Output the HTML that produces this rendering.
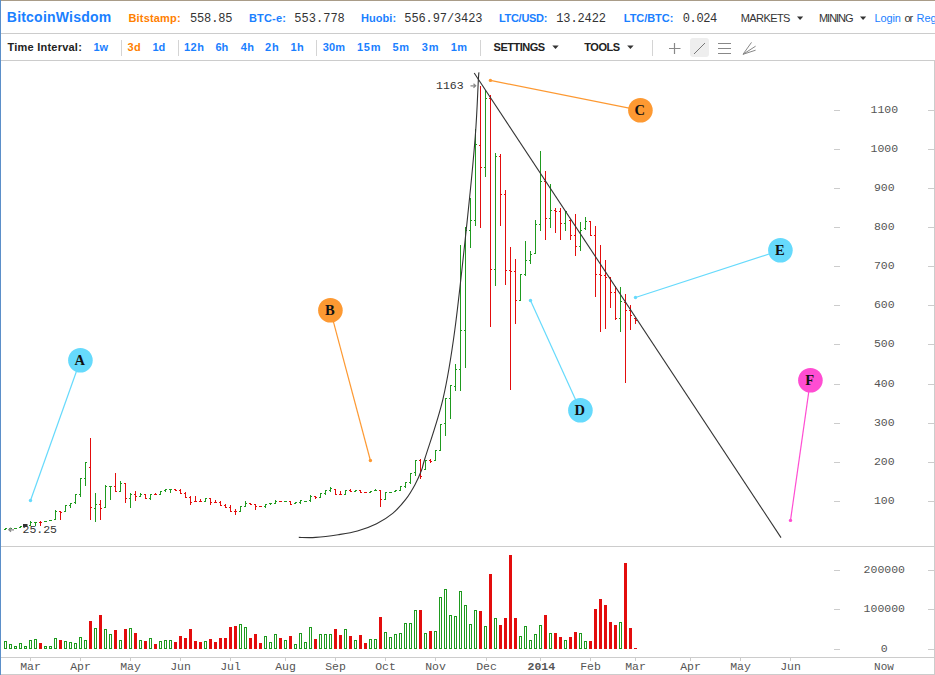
<!DOCTYPE html><html><head><meta charset="utf-8"><style>html,body{margin:0;padding:0;background:#fff;width:935px;height:675px;overflow:hidden}svg{display:block}</style></head><body>
<svg width="935" height="675" viewBox="0 0 935 675">
<rect x="0" y="0" width="935" height="675" fill="#fff"/>
<rect x="0" y="33" width="935" height="1" fill="#cccccc"/>
<rect x="0" y="60" width="935" height="1" fill="#cccccc"/>
<rect x="934" y="60" width="1" height="615" fill="#cccccc"/>
<rect x="0" y="546" width="935" height="1" fill="#cccccc"/>
<rect x="0" y="657" width="935" height="1" fill="#cccccc"/>
<rect x="0" y="674" width="935" height="1" fill="#cccccc"/>
<rect x="0" y="0" width="935" height="1" fill="#a99c88"/>
<rect x="0" y="0" width="1" height="675" fill="#5b8fc9"/>
<text x="6.80" y="22" style="font-family:'Liberation Sans',sans-serif;font-size:14px;font-weight:bold;fill:#1a80ff" textLength="104.37" lengthAdjust="spacing">BitcoinWisdom</text>
<text x="128.50" y="22" style="font-family:'Liberation Sans',sans-serif;font-size:11px;font-weight:bold;fill:#ff8000" textLength="52.13" lengthAdjust="spacing">Bitstamp:</text>
<text x="189.90" y="22" style="font-family:'Liberation Mono',monospace;font-size:12px;fill:#333" textLength="42.62" lengthAdjust="spacing">558.85</text>
<text x="248.90" y="22" style="font-family:'Liberation Sans',sans-serif;font-size:11px;font-weight:bold;fill:#1a80ff" textLength="37.06" lengthAdjust="spacing">BTC-e:</text>
<text x="294.20" y="22" style="font-family:'Liberation Mono',monospace;font-size:12px;fill:#333" textLength="50.62" lengthAdjust="spacing">553.778</text>
<text x="360.90" y="22" style="font-family:'Liberation Sans',sans-serif;font-size:11px;font-weight:bold;fill:#1a80ff" textLength="35.23" lengthAdjust="spacing">Huobi:</text>
<text x="404.30" y="22" style="font-family:'Liberation Mono',monospace;font-size:12px;fill:#333" textLength="78.22" lengthAdjust="spacing">556.97/3423</text>
<text x="498.90" y="22" style="font-family:'Liberation Sans',sans-serif;font-size:11px;font-weight:bold;fill:#1a80ff" textLength="48.52" lengthAdjust="spacing">LTC/USD:</text>
<text x="556.30" y="22" style="font-family:'Liberation Mono',monospace;font-size:12px;fill:#333" textLength="49.62" lengthAdjust="spacing">13.2422</text>
<text x="623.80" y="22" style="font-family:'Liberation Sans',sans-serif;font-size:11px;font-weight:bold;fill:#1a80ff" textLength="49.51" lengthAdjust="spacing">LTC/BTC:</text>
<text x="682.80" y="22" style="font-family:'Liberation Mono',monospace;font-size:12px;fill:#333" textLength="34.42" lengthAdjust="spacing">0.024</text>
<text x="740.80" y="22" style="font-family:'Liberation Sans',sans-serif;font-size:11px;fill:#333" textLength="49.59" lengthAdjust="spacing">MARKETS</text>
<text x="819.00" y="22" style="font-family:'Liberation Sans',sans-serif;font-size:11px;fill:#333" textLength="34.53" lengthAdjust="spacing">MINING</text>
<text x="874.40" y="22" style="font-family:'Liberation Sans',sans-serif;font-size:11px;fill:#1a80ff" textLength="26.52" lengthAdjust="spacing">Login</text>
<text x="904.50" y="22" style="font-family:'Liberation Sans',sans-serif;font-size:11px;fill:#333" textLength="8.58" lengthAdjust="spacing">or</text>
<text x="7.50" y="51" style="font-family:'Liberation Sans',sans-serif;font-size:11px;font-weight:bold;fill:#222" textLength="74.33" lengthAdjust="spacing">Time Interval:</text>
<text x="93.50" y="51" style="font-family:'Liberation Sans',sans-serif;font-size:11px;font-weight:bold;fill:#1a80ff" textLength="14.49" lengthAdjust="spacing">1w</text>
<text x="127.60" y="51" style="font-family:'Liberation Sans',sans-serif;font-size:11px;font-weight:bold;fill:#ff8000" textLength="13.24" lengthAdjust="spacing">3d</text>
<text x="152.50" y="51" style="font-family:'Liberation Sans',sans-serif;font-size:11px;font-weight:bold;fill:#1a80ff" textLength="12.64" lengthAdjust="spacing">1d</text>
<text x="183.90" y="51" style="font-family:'Liberation Sans',sans-serif;font-size:11px;font-weight:bold;fill:#1a80ff" textLength="19.97" lengthAdjust="spacing">12h</text>
<text x="215.60" y="51" style="font-family:'Liberation Sans',sans-serif;font-size:11px;font-weight:bold;fill:#1a80ff" textLength="12.64" lengthAdjust="spacing">6h</text>
<text x="240.70" y="51" style="font-family:'Liberation Sans',sans-serif;font-size:11px;font-weight:bold;fill:#1a80ff" textLength="13.24" lengthAdjust="spacing">4h</text>
<text x="265.10" y="51" style="font-family:'Liberation Sans',sans-serif;font-size:11px;font-weight:bold;fill:#1a80ff" textLength="13.64" lengthAdjust="spacing">2h</text>
<text x="290.60" y="51" style="font-family:'Liberation Sans',sans-serif;font-size:11px;font-weight:bold;fill:#1a80ff" textLength="13.24" lengthAdjust="spacing">1h</text>
<text x="322.70" y="51" style="font-family:'Liberation Sans',sans-serif;font-size:11px;font-weight:bold;fill:#1a80ff" textLength="22.23" lengthAdjust="spacing">30m</text>
<text x="357.00" y="51" style="font-family:'Liberation Sans',sans-serif;font-size:11px;font-weight:bold;fill:#1a80ff" textLength="23.43" lengthAdjust="spacing">15m</text>
<text x="392.40" y="51" style="font-family:'Liberation Sans',sans-serif;font-size:11px;font-weight:bold;fill:#1a80ff" textLength="16.51" lengthAdjust="spacing">5m</text>
<text x="421.80" y="51" style="font-family:'Liberation Sans',sans-serif;font-size:11px;font-weight:bold;fill:#1a80ff" textLength="16.71" lengthAdjust="spacing">3m</text>
<text x="450.80" y="51" style="font-family:'Liberation Sans',sans-serif;font-size:11px;font-weight:bold;fill:#1a80ff" textLength="16.11" lengthAdjust="spacing">1m</text>
<text x="493.60" y="51" style="font-family:'Liberation Sans',sans-serif;font-size:11px;font-weight:bold;fill:#222" textLength="51.42" lengthAdjust="spacing">SETTINGS</text>
<text x="584.30" y="51" style="font-family:'Liberation Sans',sans-serif;font-size:11px;font-weight:bold;fill:#222" textLength="35.90" lengthAdjust="spacing">TOOLS</text>
<path d="M797 16.5 h6.2 l-3.1 3.5z" fill="#333"/>
<path d="M860 16.5 h6.2 l-3.1 3.5z" fill="#333"/>
<text x="916.5" y="22" style="font-family:'Liberation Sans',sans-serif;font-size:11px;fill:#1a80ff" text-anchor="start" >Register</text>
<rect x="121" y="40" width="1" height="16" fill="#d4d4d4"/>
<rect x="178" y="40" width="1" height="16" fill="#d4d4d4"/>
<rect x="316" y="40" width="1" height="16" fill="#d4d4d4"/>
<rect x="480" y="40" width="1" height="16" fill="#d4d4d4"/>
<rect x="652" y="40" width="1" height="16" fill="#d4d4d4"/>
<path d="M552.3 45.5 h6.4 l-3.2 3.4z" fill="#333"/>
<path d="M627.2 45.5 h6.4 l-3.2 3.4z" fill="#333"/>
<path d="M674.5 43 v11 M669 48.5 h11.5" stroke="#888" stroke-width="1.2" fill="none"/>
<rect x="690" y="38" width="19" height="19" rx="3" fill="#eeeeee"/>
<path d="M694 54 L705 43" stroke="#777" stroke-width="1" fill="none"/>
<path d="M718 43.5 h13 M718 48.5 h13 M718 53.5 h13" stroke="#888" stroke-width="1.2" fill="none"/>
<path d="M743 54.3 L751.5 42.4 M743 54.3 L755.6 46.2 M743 54.3 L755.6 50.2" stroke="#888" stroke-width="1" fill="none"/>
<rect x="834" y="501" width="6" height="1" fill="#cccccc"/><rect x="928" y="501" width="6" height="1" fill="#cccccc"/>
<text x="884.3" y="504" style="font-family:'Liberation Mono',monospace;font-size:11.5px;fill:#555" text-anchor="middle" >100</text>
<rect x="834" y="462" width="6" height="1" fill="#cccccc"/><rect x="928" y="462" width="6" height="1" fill="#cccccc"/>
<text x="884.3" y="465" style="font-family:'Liberation Mono',monospace;font-size:11.5px;fill:#555" text-anchor="middle" >200</text>
<rect x="834" y="423" width="6" height="1" fill="#cccccc"/><rect x="928" y="423" width="6" height="1" fill="#cccccc"/>
<text x="884.3" y="426" style="font-family:'Liberation Mono',monospace;font-size:11.5px;fill:#555" text-anchor="middle" >300</text>
<rect x="834" y="384" width="6" height="1" fill="#cccccc"/><rect x="928" y="384" width="6" height="1" fill="#cccccc"/>
<text x="884.3" y="387" style="font-family:'Liberation Mono',monospace;font-size:11.5px;fill:#555" text-anchor="middle" >400</text>
<rect x="834" y="344" width="6" height="1" fill="#cccccc"/><rect x="928" y="344" width="6" height="1" fill="#cccccc"/>
<text x="884.3" y="347" style="font-family:'Liberation Mono',monospace;font-size:11.5px;fill:#555" text-anchor="middle" >500</text>
<rect x="834" y="305" width="6" height="1" fill="#cccccc"/><rect x="928" y="305" width="6" height="1" fill="#cccccc"/>
<text x="884.3" y="308" style="font-family:'Liberation Mono',monospace;font-size:11.5px;fill:#555" text-anchor="middle" >600</text>
<rect x="834" y="266" width="6" height="1" fill="#cccccc"/><rect x="928" y="266" width="6" height="1" fill="#cccccc"/>
<text x="884.3" y="269" style="font-family:'Liberation Mono',monospace;font-size:11.5px;fill:#555" text-anchor="middle" >700</text>
<rect x="834" y="227" width="6" height="1" fill="#cccccc"/><rect x="928" y="227" width="6" height="1" fill="#cccccc"/>
<text x="884.3" y="230" style="font-family:'Liberation Mono',monospace;font-size:11.5px;fill:#555" text-anchor="middle" >800</text>
<rect x="834" y="188" width="6" height="1" fill="#cccccc"/><rect x="928" y="188" width="6" height="1" fill="#cccccc"/>
<text x="884.3" y="191" style="font-family:'Liberation Mono',monospace;font-size:11.5px;fill:#555" text-anchor="middle" >900</text>
<rect x="834" y="149" width="6" height="1" fill="#cccccc"/><rect x="928" y="149" width="6" height="1" fill="#cccccc"/>
<text x="884.3" y="152" style="font-family:'Liberation Mono',monospace;font-size:11.5px;fill:#555" text-anchor="middle" >1000</text>
<rect x="834" y="110" width="6" height="1" fill="#cccccc"/><rect x="928" y="110" width="6" height="1" fill="#cccccc"/>
<text x="884.3" y="113" style="font-family:'Liberation Mono',monospace;font-size:11.5px;fill:#555" text-anchor="middle" >1100</text>
<rect x="834" y="570" width="6" height="1" fill="#cccccc"/><rect x="928" y="570" width="6" height="1" fill="#cccccc"/>
<text x="884.3" y="573" style="font-family:'Liberation Mono',monospace;font-size:11.5px;fill:#555" text-anchor="middle" >200000</text>
<rect x="834" y="609" width="6" height="1" fill="#cccccc"/><rect x="928" y="609" width="6" height="1" fill="#cccccc"/>
<text x="884.3" y="612" style="font-family:'Liberation Mono',monospace;font-size:11.5px;fill:#555" text-anchor="middle" >100000</text>
<rect x="834" y="649" width="6" height="1" fill="#cccccc"/><rect x="928" y="649" width="6" height="1" fill="#cccccc"/>
<text x="884.3" y="652" style="font-family:'Liberation Mono',monospace;font-size:11.5px;fill:#555" text-anchor="middle" >0</text>
<rect x="30" y="657" width="1" height="4" fill="#cccccc"/>
<text x="30.5" y="669.5" style="font-family:'Liberation Mono',monospace;font-size:11.5px;fill:#555" text-anchor="middle" >Mar</text>
<rect x="80" y="657" width="1" height="4" fill="#cccccc"/>
<text x="80.5" y="669.5" style="font-family:'Liberation Mono',monospace;font-size:11.5px;fill:#555" text-anchor="middle" >Apr</text>
<rect x="130" y="657" width="1" height="4" fill="#cccccc"/>
<text x="130.5" y="669.5" style="font-family:'Liberation Mono',monospace;font-size:11.5px;fill:#555" text-anchor="middle" >May</text>
<rect x="180" y="657" width="1" height="4" fill="#cccccc"/>
<text x="180.5" y="669.5" style="font-family:'Liberation Mono',monospace;font-size:11.5px;fill:#555" text-anchor="middle" >Jun</text>
<rect x="230" y="657" width="1" height="4" fill="#cccccc"/>
<text x="230.5" y="669.5" style="font-family:'Liberation Mono',monospace;font-size:11.5px;fill:#555" text-anchor="middle" >Jul</text>
<rect x="285" y="657" width="1" height="4" fill="#cccccc"/>
<text x="285.5" y="669.5" style="font-family:'Liberation Mono',monospace;font-size:11.5px;fill:#555" text-anchor="middle" >Aug</text>
<rect x="335" y="657" width="1" height="4" fill="#cccccc"/>
<text x="335.5" y="669.5" style="font-family:'Liberation Mono',monospace;font-size:11.5px;fill:#555" text-anchor="middle" >Sep</text>
<rect x="385" y="657" width="1" height="4" fill="#cccccc"/>
<text x="385.5" y="669.5" style="font-family:'Liberation Mono',monospace;font-size:11.5px;fill:#555" text-anchor="middle" >Oct</text>
<rect x="435" y="657" width="1" height="4" fill="#cccccc"/>
<text x="435.5" y="669.5" style="font-family:'Liberation Mono',monospace;font-size:11.5px;fill:#555" text-anchor="middle" >Nov</text>
<rect x="486" y="657" width="1" height="4" fill="#cccccc"/>
<text x="486.5" y="669.5" style="font-family:'Liberation Mono',monospace;font-size:11.5px;fill:#555" text-anchor="middle" >Dec</text>
<rect x="590" y="657" width="1" height="4" fill="#cccccc"/>
<text x="590.5" y="669.5" style="font-family:'Liberation Mono',monospace;font-size:11.5px;fill:#555" text-anchor="middle" >Feb</text>
<rect x="635" y="657" width="1" height="4" fill="#cccccc"/>
<text x="635.5" y="669.5" style="font-family:'Liberation Mono',monospace;font-size:11.5px;fill:#555" text-anchor="middle" >Mar</text>
<rect x="690" y="657" width="1" height="4" fill="#cccccc"/>
<text x="690.5" y="669.5" style="font-family:'Liberation Mono',monospace;font-size:11.5px;fill:#555" text-anchor="middle" >Apr</text>
<rect x="740" y="657" width="1" height="4" fill="#cccccc"/>
<text x="740.5" y="669.5" style="font-family:'Liberation Mono',monospace;font-size:11.5px;fill:#555" text-anchor="middle" >May</text>
<rect x="790" y="657" width="1" height="4" fill="#cccccc"/>
<text x="790.5" y="669.5" style="font-family:'Liberation Mono',monospace;font-size:11.5px;fill:#555" text-anchor="middle" >Jun</text>
<rect x="540" y="657" width="1" height="4" fill="#cccccc"/>
<text x="541.3" y="669.5" style="font-family:'Liberation Mono',monospace;font-size:11.5px;font-weight:bold;fill:#555" text-anchor="middle" >2014</text>
<text x="884" y="670" style="font-family:'Liberation Mono',monospace;font-size:11px;fill:#555" text-anchor="middle" >Now</text>
<rect x="4.5" y="641.5" width="2" height="7" fill="none" stroke="#1f9a1f" stroke-width="1"/>
<rect x="9.5" y="644.5" width="2" height="4" fill="none" stroke="#1f9a1f" stroke-width="1"/>
<rect x="14.5" y="646.5" width="2" height="2" fill="none" stroke="#1f9a1f" stroke-width="1"/>
<rect x="19.5" y="643.5" width="2" height="5" fill="none" stroke="#1f9a1f" stroke-width="1"/>
<rect x="24.5" y="646.5" width="2" height="2" fill="none" stroke="#1f9a1f" stroke-width="1"/>
<rect x="29.5" y="640.5" width="2" height="8" fill="none" stroke="#1f9a1f" stroke-width="1"/>
<rect x="34.5" y="639.5" width="2" height="9" fill="none" stroke="#1f9a1f" stroke-width="1"/>
<rect x="39" y="643" width="3" height="6" fill="#e30d0d"/>
<rect x="44.5" y="646.5" width="2" height="2" fill="none" stroke="#1f9a1f" stroke-width="1"/>
<rect x="49.5" y="646.5" width="2" height="2" fill="none" stroke="#1f9a1f" stroke-width="1"/>
<rect x="54.5" y="638.5" width="2" height="10" fill="none" stroke="#1f9a1f" stroke-width="1"/>
<rect x="59" y="640" width="3" height="9" fill="#e30d0d"/>
<rect x="64.5" y="641.5" width="2" height="7" fill="none" stroke="#1f9a1f" stroke-width="1"/>
<rect x="69.5" y="642.5" width="2" height="6" fill="none" stroke="#1f9a1f" stroke-width="1"/>
<rect x="74.5" y="643.5" width="2" height="5" fill="none" stroke="#1f9a1f" stroke-width="1"/>
<rect x="79.5" y="637.5" width="2" height="11" fill="none" stroke="#1f9a1f" stroke-width="1"/>
<rect x="84.5" y="640.5" width="2" height="8" fill="none" stroke="#1f9a1f" stroke-width="1"/>
<rect x="89" y="621" width="3" height="28" fill="#e30d0d"/>
<rect x="94.5" y="628.5" width="2" height="20" fill="none" stroke="#1f9a1f" stroke-width="1"/>
<rect x="99" y="615" width="3" height="34" fill="#e30d0d"/>
<rect x="104.5" y="629.5" width="2" height="19" fill="none" stroke="#1f9a1f" stroke-width="1"/>
<rect x="109.5" y="634.5" width="2" height="14" fill="none" stroke="#1f9a1f" stroke-width="1"/>
<rect x="114" y="630" width="3" height="19" fill="#e30d0d"/>
<rect x="119.5" y="640.5" width="2" height="8" fill="none" stroke="#1f9a1f" stroke-width="1"/>
<rect x="124" y="629" width="3" height="20" fill="#e30d0d"/>
<rect x="129.5" y="628.5" width="2" height="20" fill="none" stroke="#1f9a1f" stroke-width="1"/>
<rect x="134" y="633" width="3" height="16" fill="#e30d0d"/>
<rect x="139.5" y="640.5" width="2" height="8" fill="none" stroke="#1f9a1f" stroke-width="1"/>
<rect x="144" y="641" width="3" height="8" fill="#e30d0d"/>
<rect x="149.5" y="638.5" width="2" height="10" fill="none" stroke="#1f9a1f" stroke-width="1"/>
<rect x="154" y="644" width="3" height="5" fill="#e30d0d"/>
<rect x="159.5" y="641.5" width="2" height="7" fill="none" stroke="#1f9a1f" stroke-width="1"/>
<rect x="164.5" y="640.5" width="2" height="8" fill="none" stroke="#1f9a1f" stroke-width="1"/>
<rect x="169.5" y="640.5" width="2" height="8" fill="none" stroke="#1f9a1f" stroke-width="1"/>
<rect x="174" y="642" width="3" height="7" fill="#e30d0d"/>
<rect x="179" y="636" width="3" height="13" fill="#e30d0d"/>
<rect x="184" y="638" width="3" height="11" fill="#e30d0d"/>
<rect x="189" y="629" width="3" height="20" fill="#e30d0d"/>
<rect x="194" y="641" width="3" height="8" fill="#e30d0d"/>
<rect x="199" y="642" width="3" height="7" fill="#e30d0d"/>
<rect x="204.5" y="641.5" width="2" height="7" fill="none" stroke="#1f9a1f" stroke-width="1"/>
<rect x="209" y="639" width="3" height="10" fill="#e30d0d"/>
<rect x="214" y="642" width="3" height="7" fill="#e30d0d"/>
<rect x="219" y="638" width="3" height="11" fill="#e30d0d"/>
<rect x="224" y="638" width="3" height="11" fill="#e30d0d"/>
<rect x="229" y="627" width="3" height="22" fill="#e30d0d"/>
<rect x="234" y="626" width="3" height="23" fill="#e30d0d"/>
<rect x="239.5" y="624.5" width="2" height="24" fill="none" stroke="#1f9a1f" stroke-width="1"/>
<rect x="244.5" y="627.5" width="2" height="21" fill="none" stroke="#1f9a1f" stroke-width="1"/>
<rect x="249" y="638" width="3" height="11" fill="#e30d0d"/>
<rect x="254" y="634" width="3" height="15" fill="#e30d0d"/>
<rect x="259" y="643" width="3" height="6" fill="#e30d0d"/>
<rect x="264.5" y="636.5" width="2" height="12" fill="none" stroke="#1f9a1f" stroke-width="1"/>
<rect x="269.5" y="642.5" width="2" height="6" fill="none" stroke="#1f9a1f" stroke-width="1"/>
<rect x="274.5" y="634.5" width="2" height="14" fill="none" stroke="#1f9a1f" stroke-width="1"/>
<rect x="279" y="638" width="3" height="11" fill="#e30d0d"/>
<rect x="284.5" y="640.5" width="2" height="8" fill="none" stroke="#1f9a1f" stroke-width="1"/>
<rect x="289" y="636" width="3" height="13" fill="#e30d0d"/>
<rect x="294.5" y="644.5" width="2" height="4" fill="none" stroke="#1f9a1f" stroke-width="1"/>
<rect x="299.5" y="633.5" width="2" height="15" fill="none" stroke="#1f9a1f" stroke-width="1"/>
<rect x="304.5" y="642.5" width="2" height="6" fill="none" stroke="#1f9a1f" stroke-width="1"/>
<rect x="309.5" y="627.5" width="2" height="21" fill="none" stroke="#1f9a1f" stroke-width="1"/>
<rect x="314" y="639" width="3" height="10" fill="#e30d0d"/>
<rect x="319.5" y="634.5" width="2" height="14" fill="none" stroke="#1f9a1f" stroke-width="1"/>
<rect x="324.5" y="634.5" width="2" height="14" fill="none" stroke="#1f9a1f" stroke-width="1"/>
<rect x="329.5" y="634.5" width="2" height="14" fill="none" stroke="#1f9a1f" stroke-width="1"/>
<rect x="334" y="629" width="3" height="20" fill="#e30d0d"/>
<rect x="339" y="635" width="3" height="14" fill="#e30d0d"/>
<rect x="344.5" y="629.5" width="2" height="19" fill="none" stroke="#1f9a1f" stroke-width="1"/>
<rect x="349" y="636" width="3" height="13" fill="#e30d0d"/>
<rect x="354.5" y="640.5" width="2" height="8" fill="none" stroke="#1f9a1f" stroke-width="1"/>
<rect x="359" y="635" width="3" height="14" fill="#e30d0d"/>
<rect x="364" y="643" width="3" height="6" fill="#e30d0d"/>
<rect x="369.5" y="639.5" width="2" height="9" fill="none" stroke="#1f9a1f" stroke-width="1"/>
<rect x="374.5" y="639.5" width="2" height="9" fill="none" stroke="#1f9a1f" stroke-width="1"/>
<rect x="379" y="617" width="3" height="32" fill="#e30d0d"/>
<rect x="384.5" y="632.5" width="2" height="16" fill="none" stroke="#1f9a1f" stroke-width="1"/>
<rect x="389.5" y="637.5" width="2" height="11" fill="none" stroke="#1f9a1f" stroke-width="1"/>
<rect x="394.5" y="634.5" width="2" height="14" fill="none" stroke="#1f9a1f" stroke-width="1"/>
<rect x="399.5" y="633.5" width="2" height="15" fill="none" stroke="#1f9a1f" stroke-width="1"/>
<rect x="404.5" y="623.5" width="2" height="25" fill="none" stroke="#1f9a1f" stroke-width="1"/>
<rect x="409.5" y="623.5" width="2" height="25" fill="none" stroke="#1f9a1f" stroke-width="1"/>
<rect x="414.5" y="610.5" width="2" height="38" fill="none" stroke="#1f9a1f" stroke-width="1"/>
<rect x="419" y="610" width="3" height="39" fill="#e30d0d"/>
<rect x="424.5" y="633.5" width="2" height="15" fill="none" stroke="#1f9a1f" stroke-width="1"/>
<rect x="429" y="631" width="3" height="18" fill="#e30d0d"/>
<rect x="434.5" y="631.5" width="2" height="17" fill="none" stroke="#1f9a1f" stroke-width="1"/>
<rect x="439.5" y="597.5" width="2" height="51" fill="none" stroke="#1f9a1f" stroke-width="1"/>
<rect x="444.5" y="589.5" width="2" height="59" fill="none" stroke="#1f9a1f" stroke-width="1"/>
<rect x="449.5" y="615.5" width="2" height="33" fill="none" stroke="#1f9a1f" stroke-width="1"/>
<rect x="454.5" y="616.5" width="2" height="32" fill="none" stroke="#1f9a1f" stroke-width="1"/>
<rect x="459.5" y="591.5" width="2" height="57" fill="none" stroke="#1f9a1f" stroke-width="1"/>
<rect x="464.5" y="605.5" width="2" height="43" fill="none" stroke="#1f9a1f" stroke-width="1"/>
<rect x="469.5" y="624.5" width="2" height="24" fill="none" stroke="#1f9a1f" stroke-width="1"/>
<rect x="474.5" y="610.5" width="2" height="38" fill="none" stroke="#1f9a1f" stroke-width="1"/>
<rect x="479" y="611" width="3" height="38" fill="#e30d0d"/>
<rect x="484.5" y="626.5" width="2" height="22" fill="none" stroke="#1f9a1f" stroke-width="1"/>
<rect x="489" y="574" width="3" height="75" fill="#e30d0d"/>
<rect x="494.5" y="618.5" width="2" height="30" fill="none" stroke="#1f9a1f" stroke-width="1"/>
<rect x="499" y="625" width="3" height="24" fill="#e30d0d"/>
<rect x="504" y="618" width="3" height="31" fill="#e30d0d"/>
<rect x="509" y="555" width="3" height="94" fill="#e30d0d"/>
<rect x="514" y="618" width="3" height="31" fill="#e30d0d"/>
<rect x="519.5" y="636.5" width="2" height="12" fill="none" stroke="#1f9a1f" stroke-width="1"/>
<rect x="524.5" y="626.5" width="2" height="22" fill="none" stroke="#1f9a1f" stroke-width="1"/>
<rect x="529.5" y="640.5" width="2" height="8" fill="none" stroke="#1f9a1f" stroke-width="1"/>
<rect x="534.5" y="634.5" width="2" height="14" fill="none" stroke="#1f9a1f" stroke-width="1"/>
<rect x="539.5" y="625.5" width="2" height="23" fill="none" stroke="#1f9a1f" stroke-width="1"/>
<rect x="544" y="615" width="3" height="34" fill="#e30d0d"/>
<rect x="549.5" y="633.5" width="2" height="15" fill="none" stroke="#1f9a1f" stroke-width="1"/>
<rect x="554" y="633" width="3" height="16" fill="#e30d0d"/>
<rect x="559" y="637" width="3" height="12" fill="#e30d0d"/>
<rect x="564.5" y="640.5" width="2" height="8" fill="none" stroke="#1f9a1f" stroke-width="1"/>
<rect x="569" y="637" width="3" height="12" fill="#e30d0d"/>
<rect x="574" y="632" width="3" height="17" fill="#e30d0d"/>
<rect x="579.5" y="633.5" width="2" height="15" fill="none" stroke="#1f9a1f" stroke-width="1"/>
<rect x="584.5" y="641.5" width="2" height="7" fill="none" stroke="#1f9a1f" stroke-width="1"/>
<rect x="589" y="641" width="3" height="8" fill="#e30d0d"/>
<rect x="594" y="609" width="3" height="40" fill="#e30d0d"/>
<rect x="599" y="599" width="3" height="50" fill="#e30d0d"/>
<rect x="604" y="605" width="3" height="44" fill="#e30d0d"/>
<rect x="609" y="622" width="3" height="27" fill="#e30d0d"/>
<rect x="614" y="625" width="3" height="24" fill="#e30d0d"/>
<rect x="619.5" y="622.5" width="2" height="26" fill="none" stroke="#1f9a1f" stroke-width="1"/>
<rect x="624" y="563" width="3" height="86" fill="#e30d0d"/>
<rect x="629" y="628" width="3" height="21" fill="#e30d0d"/>
<rect x="634" y="648" width="3" height="1" fill="#e30d0d"/>
<path d="M5.5 528 V530 M4 529.5 H5.5 M5.5 528.5 H7" stroke="#1f9a1f" stroke-width="1" fill="none"/>
<path d="M10.5 528 V529 M9 528.5 H10.5 M10.5 528.5 H12" stroke="#1f9a1f" stroke-width="1" fill="none"/>
<path d="M15.5 528 V529 M14 528.5 H15.5 M15.5 528.5 H17" stroke="#1f9a1f" stroke-width="1" fill="none"/>
<path d="M20.5 526 V528 M19 527.5 H20.5 M20.5 526.5 H22" stroke="#1f9a1f" stroke-width="1" fill="none"/>
<path d="M25.5 526 V527 M24 526.5 H25.5 M25.5 526.5 H27" stroke="#1f9a1f" stroke-width="1" fill="none"/>
<path d="M30.5 521 V526 M29 525.5 H30.5 M30.5 522.5 H32" stroke="#1f9a1f" stroke-width="1" fill="none"/>
<path d="M35.5 522 V526 M34 522.5 H35.5 M35.5 522.5 H37" stroke="#1f9a1f" stroke-width="1" fill="none"/>
<path d="M40.5 521 V526 M39 522.5 H40.5 M40.5 522.5 H42" stroke="#e30d0d" stroke-width="1" fill="none"/>
<path d="M45.5 521 V522 M44 521.5 H45.5 M45.5 521.5 H47" stroke="#1f9a1f" stroke-width="1" fill="none"/>
<path d="M50.5 520 V521 M49 520.5 H50.5 M50.5 520.5 H52" stroke="#1f9a1f" stroke-width="1" fill="none"/>
<path d="M55.5 510 V520 M54 519.5 H55.5 M55.5 511.5 H57" stroke="#1f9a1f" stroke-width="1" fill="none"/>
<path d="M60.5 511 V520 M59 511.5 H60.5 M60.5 512.5 H62" stroke="#e30d0d" stroke-width="1" fill="none"/>
<path d="M65.5 505 V512 M64 511.5 H65.5 M65.5 505.5 H67" stroke="#1f9a1f" stroke-width="1" fill="none"/>
<path d="M70.5 503 V508 M69 505.5 H70.5 M70.5 503.5 H72" stroke="#1f9a1f" stroke-width="1" fill="none"/>
<path d="M75.5 494 V504 M74 502.5 H75.5 M75.5 494.5 H77" stroke="#1f9a1f" stroke-width="1" fill="none"/>
<path d="M80.5 478 V497 M79 494.5 H80.5 M80.5 478.5 H82" stroke="#1f9a1f" stroke-width="1" fill="none"/>
<path d="M85.5 462 V486 M84 478.5 H85.5 M85.5 462.5 H87" stroke="#1f9a1f" stroke-width="1" fill="none"/>
<path d="M90.5 438 V520 M89 467.5 H90.5 M90.5 507.5 H92" stroke="#e30d0d" stroke-width="1" fill="none"/>
<path d="M95.5 493 V522 M94 508.5 H95.5 M95.5 504.5 H97" stroke="#1f9a1f" stroke-width="1" fill="none"/>
<path d="M100.5 500 V520 M99 504.5 H100.5 M100.5 508.5 H102" stroke="#e30d0d" stroke-width="1" fill="none"/>
<path d="M105.5 485 V508 M104 507.5 H105.5 M105.5 486.5 H107" stroke="#1f9a1f" stroke-width="1" fill="none"/>
<path d="M110.5 486 V500 M109 486.5 H110.5 M110.5 486.5 H112" stroke="#1f9a1f" stroke-width="1" fill="none"/>
<path d="M115.5 473 V492 M114 486.5 H115.5 M115.5 491.5 H117" stroke="#e30d0d" stroke-width="1" fill="none"/>
<path d="M120.5 481 V492 M119 491.5 H120.5 M120.5 483.5 H122" stroke="#1f9a1f" stroke-width="1" fill="none"/>
<path d="M125.5 483 V503 M124 483.5 H125.5 M125.5 498.5 H127" stroke="#e30d0d" stroke-width="1" fill="none"/>
<path d="M130.5 493 V508 M129 498.5 H130.5 M130.5 494.5 H132" stroke="#1f9a1f" stroke-width="1" fill="none"/>
<path d="M135.5 491 V501 M134 494.5 H135.5 M135.5 496.5 H137" stroke="#e30d0d" stroke-width="1" fill="none"/>
<path d="M140.5 493 V497 M139 496.5 H140.5 M140.5 494.5 H142" stroke="#1f9a1f" stroke-width="1" fill="none"/>
<path d="M145.5 494 V499 M144 494.5 H145.5 M145.5 498.5 H147" stroke="#e30d0d" stroke-width="1" fill="none"/>
<path d="M150.5 494 V500 M149 498.5 H150.5 M150.5 494.5 H152" stroke="#1f9a1f" stroke-width="1" fill="none"/>
<path d="M155.5 493 V495 M154 494.5 H155.5 M155.5 494.5 H157" stroke="#e30d0d" stroke-width="1" fill="none"/>
<path d="M160.5 491 V495 M159 494.5 H160.5 M160.5 491.5 H162" stroke="#1f9a1f" stroke-width="1" fill="none"/>
<path d="M165.5 489 V492 M164 490.5 H165.5 M165.5 489.5 H167" stroke="#1f9a1f" stroke-width="1" fill="none"/>
<path d="M170.5 489 V493 M169 489.5 H170.5 M170.5 489.5 H172" stroke="#1f9a1f" stroke-width="1" fill="none"/>
<path d="M175.5 489 V491 M174 489.5 H175.5 M175.5 490.5 H177" stroke="#e30d0d" stroke-width="1" fill="none"/>
<path d="M180.5 489 V494 M179 490.5 H180.5 M180.5 493.5 H182" stroke="#e30d0d" stroke-width="1" fill="none"/>
<path d="M185.5 492 V498 M184 493.5 H185.5 M185.5 497.5 H187" stroke="#e30d0d" stroke-width="1" fill="none"/>
<path d="M190.5 496 V505 M189 497.5 H190.5 M190.5 502.5 H192" stroke="#e30d0d" stroke-width="1" fill="none"/>
<path d="M195.5 496 V502 M194 501.5 H195.5 M195.5 501.5 H197" stroke="#e30d0d" stroke-width="1" fill="none"/>
<path d="M200.5 499 V502 M199 501.5 H200.5 M200.5 501.5 H202" stroke="#e30d0d" stroke-width="1" fill="none"/>
<path d="M205.5 498 V502 M204 501.5 H205.5 M205.5 498.5 H207" stroke="#1f9a1f" stroke-width="1" fill="none"/>
<path d="M210.5 498 V505 M209 498.5 H210.5 M210.5 502.5 H212" stroke="#e30d0d" stroke-width="1" fill="none"/>
<path d="M215.5 500 V503 M214 502.5 H215.5 M215.5 502.5 H217" stroke="#e30d0d" stroke-width="1" fill="none"/>
<path d="M220.5 501 V506 M219 502.5 H220.5 M220.5 505.5 H222" stroke="#e30d0d" stroke-width="1" fill="none"/>
<path d="M225.5 504 V508 M224 505.5 H225.5 M225.5 507.5 H227" stroke="#e30d0d" stroke-width="1" fill="none"/>
<path d="M230.5 505 V512 M229 507.5 H230.5 M230.5 511.5 H232" stroke="#e30d0d" stroke-width="1" fill="none"/>
<path d="M235.5 509 V515 M234 511.5 H235.5 M235.5 511.5 H237" stroke="#e30d0d" stroke-width="1" fill="none"/>
<path d="M240.5 506 V512 M239 511.5 H240.5 M240.5 506.5 H242" stroke="#1f9a1f" stroke-width="1" fill="none"/>
<path d="M245.5 501 V507 M244 506.5 H245.5 M245.5 503.5 H247" stroke="#1f9a1f" stroke-width="1" fill="none"/>
<path d="M250.5 503 V505 M249 503.5 H250.5 M250.5 504.5 H252" stroke="#e30d0d" stroke-width="1" fill="none"/>
<path d="M255.5 504 V510 M254 504.5 H255.5 M255.5 506.5 H257" stroke="#e30d0d" stroke-width="1" fill="none"/>
<path d="M260.5 506 V507 M259 506.5 H260.5 M260.5 506.5 H262" stroke="#e30d0d" stroke-width="1" fill="none"/>
<path d="M265.5 504 V508 M264 506.5 H265.5 M265.5 504.5 H267" stroke="#1f9a1f" stroke-width="1" fill="none"/>
<path d="M270.5 503 V505 M269 503.5 H270.5 M270.5 503.5 H272" stroke="#1f9a1f" stroke-width="1" fill="none"/>
<path d="M275.5 500 V504 M274 503.5 H275.5 M275.5 501.5 H277" stroke="#1f9a1f" stroke-width="1" fill="none"/>
<path d="M280.5 501 V502 M279 501.5 H280.5 M280.5 501.5 H282" stroke="#e30d0d" stroke-width="1" fill="none"/>
<path d="M285.5 501 V502 M284 501.5 H285.5 M285.5 501.5 H287" stroke="#1f9a1f" stroke-width="1" fill="none"/>
<path d="M290.5 501 V505 M289 501.5 H290.5 M290.5 504.5 H292" stroke="#e30d0d" stroke-width="1" fill="none"/>
<path d="M295.5 502 V504 M294 503.5 H295.5 M295.5 502.5 H297" stroke="#1f9a1f" stroke-width="1" fill="none"/>
<path d="M300.5 500 V504 M299 502.5 H300.5 M300.5 500.5 H302" stroke="#1f9a1f" stroke-width="1" fill="none"/>
<path d="M305.5 501 V502 M304 501.5 H305.5 M305.5 501.5 H307" stroke="#1f9a1f" stroke-width="1" fill="none"/>
<path d="M310.5 495 V502 M309 500.5 H310.5 M310.5 496.5 H312" stroke="#1f9a1f" stroke-width="1" fill="none"/>
<path d="M315.5 496 V499 M314 496.5 H315.5 M315.5 497.5 H317" stroke="#e30d0d" stroke-width="1" fill="none"/>
<path d="M320.5 493 V498 M319 497.5 H320.5 M320.5 493.5 H322" stroke="#1f9a1f" stroke-width="1" fill="none"/>
<path d="M325.5 490 V495 M324 493.5 H325.5 M325.5 490.5 H327" stroke="#1f9a1f" stroke-width="1" fill="none"/>
<path d="M330.5 487 V492 M329 490.5 H330.5 M330.5 488.5 H332" stroke="#1f9a1f" stroke-width="1" fill="none"/>
<path d="M335.5 489 V495 M334 489.5 H335.5 M335.5 494.5 H337" stroke="#e30d0d" stroke-width="1" fill="none"/>
<path d="M340.5 491 V495 M339 494.5 H340.5 M340.5 494.5 H342" stroke="#e30d0d" stroke-width="1" fill="none"/>
<path d="M345.5 490 V495 M344 494.5 H345.5 M345.5 490.5 H347" stroke="#1f9a1f" stroke-width="1" fill="none"/>
<path d="M350.5 489 V492 M349 490.5 H350.5 M350.5 491.5 H352" stroke="#e30d0d" stroke-width="1" fill="none"/>
<path d="M355.5 490 V492 M354 491.5 H355.5 M355.5 490.5 H357" stroke="#1f9a1f" stroke-width="1" fill="none"/>
<path d="M360.5 490 V493 M359 490.5 H360.5 M360.5 492.5 H362" stroke="#e30d0d" stroke-width="1" fill="none"/>
<path d="M365.5 492 V493 M364 492.5 H365.5 M365.5 492.5 H367" stroke="#e30d0d" stroke-width="1" fill="none"/>
<path d="M370.5 491 V493 M369 492.5 H370.5 M370.5 491.5 H372" stroke="#1f9a1f" stroke-width="1" fill="none"/>
<path d="M375.5 489 V491 M374 490.5 H375.5 M375.5 490.5 H377" stroke="#1f9a1f" stroke-width="1" fill="none"/>
<path d="M380.5 490 V507 M379 490.5 H380.5 M380.5 499.5 H382" stroke="#e30d0d" stroke-width="1" fill="none"/>
<path d="M385.5 492 V500 M384 499.5 H385.5 M385.5 492.5 H387" stroke="#1f9a1f" stroke-width="1" fill="none"/>
<path d="M390.5 492 V493 M389 492.5 H390.5 M390.5 492.5 H392" stroke="#1f9a1f" stroke-width="1" fill="none"/>
<path d="M395.5 490 V492 M394 491.5 H395.5 M395.5 490.5 H397" stroke="#1f9a1f" stroke-width="1" fill="none"/>
<path d="M400.5 486 V491 M399 490.5 H400.5 M400.5 486.5 H402" stroke="#1f9a1f" stroke-width="1" fill="none"/>
<path d="M405.5 482 V488 M404 486.5 H405.5 M405.5 482.5 H407" stroke="#1f9a1f" stroke-width="1" fill="none"/>
<path d="M410.5 473 V484 M409 482.5 H410.5 M410.5 473.5 H412" stroke="#1f9a1f" stroke-width="1" fill="none"/>
<path d="M415.5 460 V476 M414 472.5 H415.5 M415.5 460.5 H417" stroke="#1f9a1f" stroke-width="1" fill="none"/>
<path d="M420.5 459 V479 M419 460.5 H420.5 M420.5 476.5 H422" stroke="#e30d0d" stroke-width="1" fill="none"/>
<path d="M425.5 460 V470 M424 469.5 H425.5 M425.5 460.5 H427" stroke="#1f9a1f" stroke-width="1" fill="none"/>
<path d="M430.5 459 V463 M429 460.5 H430.5 M430.5 461.5 H432" stroke="#e30d0d" stroke-width="1" fill="none"/>
<path d="M435.5 450 V461 M434 460.5 H435.5 M435.5 450.5 H437" stroke="#1f9a1f" stroke-width="1" fill="none"/>
<path d="M440.5 424 V451 M439 450.5 H440.5 M440.5 424.5 H442" stroke="#1f9a1f" stroke-width="1" fill="none"/>
<path d="M445.5 398 V436 M444 423.5 H445.5 M445.5 398.5 H447" stroke="#1f9a1f" stroke-width="1" fill="none"/>
<path d="M450.5 385 V419 M449 398.5 H450.5 M450.5 385.5 H452" stroke="#1f9a1f" stroke-width="1" fill="none"/>
<path d="M455.5 364 V391 M454 386.5 H455.5 M455.5 369.5 H457" stroke="#1f9a1f" stroke-width="1" fill="none"/>
<path d="M460.5 245 V391 M459 369.5 H460.5 M460.5 330.5 H462" stroke="#1f9a1f" stroke-width="1" fill="none"/>
<path d="M465.5 227 V368 M464 330.5 H465.5 M465.5 230.5 H467" stroke="#1f9a1f" stroke-width="1" fill="none"/>
<path d="M470.5 198 V248 M469 230.5 H470.5 M470.5 220.5 H472" stroke="#1f9a1f" stroke-width="1" fill="none"/>
<path d="M475.5 129 V226 M474 220.5 H475.5 M475.5 144.5 H477" stroke="#1f9a1f" stroke-width="1" fill="none"/>
<path d="M480.5 86 V228 M479 145.5 H480.5 M480.5 167.5 H482" stroke="#e30d0d" stroke-width="1" fill="none"/>
<path d="M485.5 90 V177 M484 167.5 H485.5 M485.5 98.5 H487" stroke="#1f9a1f" stroke-width="1" fill="none"/>
<path d="M490.5 95 V327 M489 98.5 H490.5 M490.5 269.5 H492" stroke="#e30d0d" stroke-width="1" fill="none"/>
<path d="M495.5 153 V286 M494 269.5 H495.5 M495.5 156.5 H497" stroke="#1f9a1f" stroke-width="1" fill="none"/>
<path d="M500.5 154 V226 M499 156.5 H500.5 M500.5 194.5 H502" stroke="#e30d0d" stroke-width="1" fill="none"/>
<path d="M505.5 190 V285 M504 194.5 H505.5 M505.5 270.5 H507" stroke="#e30d0d" stroke-width="1" fill="none"/>
<path d="M510.5 247 V390 M509 270.5 H510.5 M510.5 271.5 H512" stroke="#e30d0d" stroke-width="1" fill="none"/>
<path d="M515.5 259 V324 M514 271.5 H515.5 M515.5 300.5 H517" stroke="#e30d0d" stroke-width="1" fill="none"/>
<path d="M520.5 274 V301 M519 300.5 H520.5 M520.5 274.5 H522" stroke="#1f9a1f" stroke-width="1" fill="none"/>
<path d="M525.5 241 V276 M524 274.5 H525.5 M525.5 260.5 H527" stroke="#1f9a1f" stroke-width="1" fill="none"/>
<path d="M530.5 251 V264 M529 260.5 H530.5 M530.5 254.5 H532" stroke="#1f9a1f" stroke-width="1" fill="none"/>
<path d="M535.5 220 V254 M534 253.5 H535.5 M535.5 224.5 H537" stroke="#1f9a1f" stroke-width="1" fill="none"/>
<path d="M540.5 151 V231 M539 224.5 H540.5 M540.5 181.5 H542" stroke="#1f9a1f" stroke-width="1" fill="none"/>
<path d="M545.5 171 V240 M544 181.5 H545.5 M545.5 218.5 H547" stroke="#e30d0d" stroke-width="1" fill="none"/>
<path d="M550.5 184 V228 M549 218.5 H550.5 M550.5 210.5 H552" stroke="#1f9a1f" stroke-width="1" fill="none"/>
<path d="M555.5 208 V233 M554 210.5 H555.5 M555.5 211.5 H557" stroke="#e30d0d" stroke-width="1" fill="none"/>
<path d="M560.5 208 V240 M559 211.5 H560.5 M560.5 223.5 H562" stroke="#e30d0d" stroke-width="1" fill="none"/>
<path d="M565.5 211 V231 M564 223.5 H565.5 M565.5 211.5 H567" stroke="#1f9a1f" stroke-width="1" fill="none"/>
<path d="M570.5 219 V240 M569 220.5 H570.5 M570.5 235.5 H572" stroke="#e30d0d" stroke-width="1" fill="none"/>
<path d="M575.5 214 V256 M574 235.5 H575.5 M575.5 246.5 H577" stroke="#e30d0d" stroke-width="1" fill="none"/>
<path d="M580.5 222 V251 M579 246.5 H580.5 M580.5 230.5 H582" stroke="#1f9a1f" stroke-width="1" fill="none"/>
<path d="M585.5 217 V230 M584 228.5 H585.5 M585.5 221.5 H587" stroke="#1f9a1f" stroke-width="1" fill="none"/>
<path d="M590.5 221 V236 M589 221.5 H590.5 M590.5 235.5 H592" stroke="#e30d0d" stroke-width="1" fill="none"/>
<path d="M595.5 226 V297 M594 235.5 H595.5 M595.5 274.5 H597" stroke="#e30d0d" stroke-width="1" fill="none"/>
<path d="M600.5 245 V332 M599 274.5 H600.5 M600.5 275.5 H602" stroke="#e30d0d" stroke-width="1" fill="none"/>
<path d="M605.5 260 V329 M604 275.5 H605.5 M605.5 277.5 H607" stroke="#e30d0d" stroke-width="1" fill="none"/>
<path d="M610.5 277 V308 M609 277.5 H610.5 M610.5 292.5 H612" stroke="#e30d0d" stroke-width="1" fill="none"/>
<path d="M615.5 286 V320 M614 292.5 H615.5 M615.5 318.5 H617" stroke="#e30d0d" stroke-width="1" fill="none"/>
<path d="M620.5 287 V332 M619 318.5 H620.5 M620.5 301.5 H622" stroke="#1f9a1f" stroke-width="1" fill="none"/>
<path d="M625.5 294 V383 M624 302.5 H625.5 M625.5 310.5 H627" stroke="#e30d0d" stroke-width="1" fill="none"/>
<path d="M630.5 305 V330 M629 310.5 H630.5 M630.5 315.5 H632" stroke="#e30d0d" stroke-width="1" fill="none"/>
<path d="M635.5 318 V324 M634 318.5 H635.5 M635.5 320.5 H637" stroke="#e30d0d" stroke-width="1" fill="none"/>
<path d="M298.8 537.4 C301.62 537.40 309.15 537.85 315.7 537.4 C322.25 536.95 331.15 535.77 338.1 534.7 C345.05 533.63 350.98 532.83 357.4 531 C363.82 529.17 370.72 526.65 376.6 523.7 C382.48 520.75 387.88 517.30 392.7 513.3 C397.52 509.30 401.77 504.52 405.5 499.7 C409.23 494.88 412.42 489.35 415.1 484.4 C417.78 479.45 419.97 474.32 421.6 470 C423.23 465.68 421.33 470.37 424.9 458.5 C428.47 446.63 438.02 420.22 443 398.8 C447.98 377.38 450.67 360.63 454.8 330 C458.93 299.37 464.38 247.33 467.8 215 C471.22 182.67 473.53 158.63 475.3 136 C477.07 113.37 477.78 89.70 478.4 79.2 C479.02 68.70 478.90 74.03 479 73" stroke="#333" stroke-width="1.1" fill="none"/>
<path d="M474.2 73 L781 537.6" stroke="#333" stroke-width="1.1" fill="none"/>
<text x="436" y="89" style="font-family:'Liberation Mono',monospace;font-size:11.5px;fill:#333" text-anchor="start" >1163</text>
<path d="M470.5 85.8 h5 M473.5 83.8 l2.2 2 l-2.2 2" stroke="#888" stroke-width="1.2" fill="none"/>
<text x="22.5" y="533" style="font-family:'Liberation Mono',monospace;font-size:11.5px;fill:#333" text-anchor="start" >25.25</text>
<path d="M14 529.8 h-5 M11 527.8 l-2.2 2 l2.2 2" stroke="#888" stroke-width="1.2" fill="none"/>
<rect x="23" y="524" width="4.5" height="3" fill="#333"/>
<line x1="80.4" y1="360.3" x2="30.5" y2="500.5" stroke="#66dafc" stroke-width="1.2"/>
<circle cx="30.5" cy="500.5" r="1.7" fill="#66dafc"/>
<circle cx="80.4" cy="360.3" r="12.3" fill="#66dafc"/>
<text x="79.80000000000001" y="364.90000000000003" style="font-family:'Liberation Serif',serif;font-size:14.5px;font-weight:bold;fill:#111" text-anchor="middle" >A</text>
<line x1="330.4" y1="310.3" x2="370.4" y2="460.5" stroke="#fd9932" stroke-width="1.2"/>
<circle cx="370.4" cy="460.5" r="1.7" fill="#fd9932"/>
<circle cx="330.4" cy="310.3" r="12.3" fill="#fd9932"/>
<text x="329.79999999999995" y="314.90000000000003" style="font-family:'Liberation Serif',serif;font-size:14.5px;font-weight:bold;fill:#111" text-anchor="middle" >B</text>
<line x1="640.4" y1="110.3" x2="490.4" y2="80.4" stroke="#fd9932" stroke-width="1.2"/>
<circle cx="490.4" cy="80.4" r="1.7" fill="#fd9932"/>
<circle cx="640.4" cy="110.3" r="12.3" fill="#fd9932"/>
<text x="639.8" y="114.89999999999999" style="font-family:'Liberation Serif',serif;font-size:14.5px;font-weight:bold;fill:#111" text-anchor="middle" >C</text>
<line x1="580.4" y1="410.3" x2="530.5" y2="300.5" stroke="#66dafc" stroke-width="1.2"/>
<circle cx="530.5" cy="300.5" r="1.7" fill="#66dafc"/>
<circle cx="580.4" cy="410.3" r="12.3" fill="#66dafc"/>
<text x="579.8" y="414.90000000000003" style="font-family:'Liberation Serif',serif;font-size:14.5px;font-weight:bold;fill:#111" text-anchor="middle" >D</text>
<line x1="780.4" y1="250.3" x2="635.5" y2="297.5" stroke="#66dafc" stroke-width="1.2"/>
<circle cx="635.5" cy="297.5" r="1.7" fill="#66dafc"/>
<circle cx="780.4" cy="250.3" r="12.3" fill="#66dafc"/>
<text x="779.8" y="254.9" style="font-family:'Liberation Serif',serif;font-size:14.5px;font-weight:bold;fill:#111" text-anchor="middle" >E</text>
<line x1="810.4" y1="380.3" x2="790.5" y2="520.4" stroke="#ff4dd2" stroke-width="1.2"/>
<circle cx="790.5" cy="520.4" r="1.7" fill="#ff4dd2"/>
<circle cx="810.4" cy="380.3" r="12.3" fill="#ff4dd2"/>
<text x="809.8" y="384.90000000000003" style="font-family:'Liberation Serif',serif;font-size:14.5px;font-weight:bold;fill:#111" text-anchor="middle" >F</text>
</svg></body></html>
